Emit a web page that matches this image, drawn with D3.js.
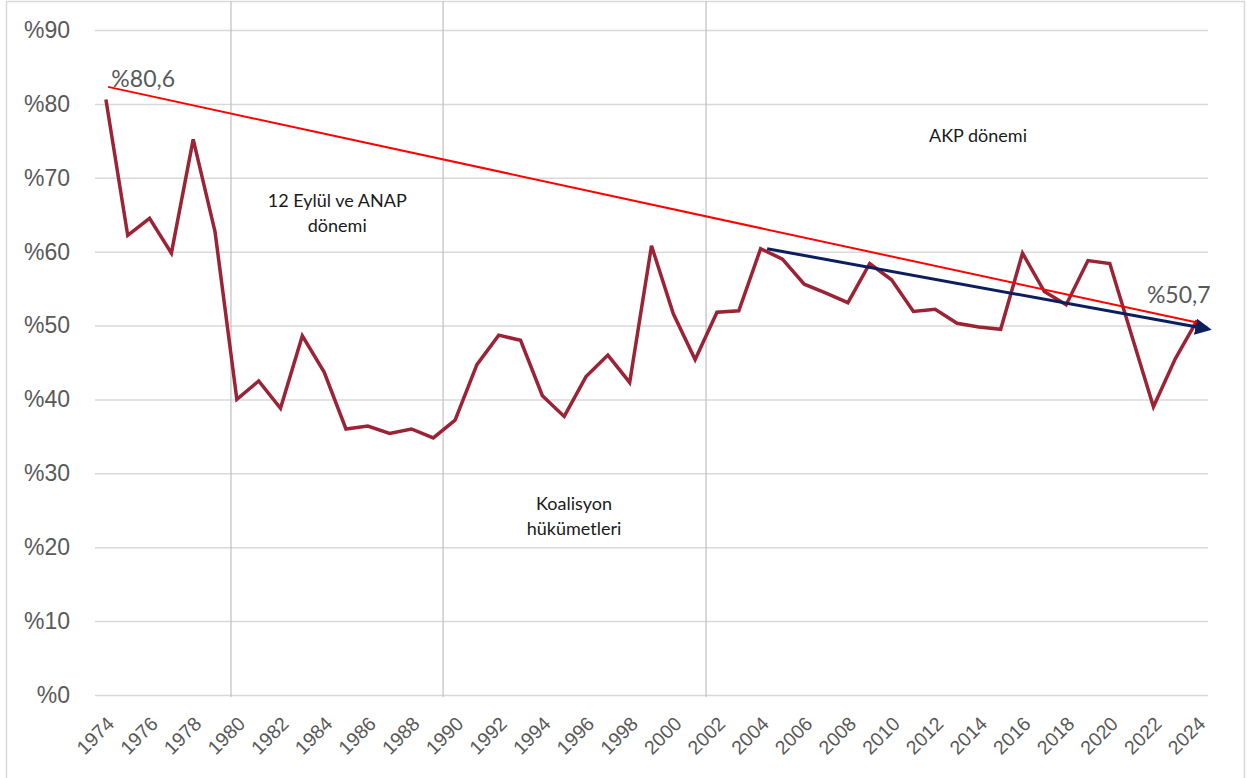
<!DOCTYPE html>
<html>
<head>
<meta charset="utf-8">
<script src="https://cdn.jsdelivr.net/npm/d3@7"></script>
<style>
  body { margin: 0; background: #fff; }
  svg { font-family: Lato, "Open Sans", sans-serif; }
</style>
</head>
<body>
<div id="chart"></div>
<script>
// yearly share (%), 1974-2024
var years = d3.range(1974, 2025);
var values = [80.6, 62.2, 64.5, 59.8, 75.2, 62.7, 40.0, 42.5, 38.8, 48.6,
              43.7, 36.0, 36.4, 35.4, 36.0, 34.8, 37.2, 44.7, 48.7, 48.0,
              40.5, 37.7, 43.1, 46.0, 42.3, 60.8, 51.6, 45.4, 51.8, 52.0,
              60.4, 59.0, 55.6, 54.4, 53.1, 58.4, 56.2, 51.9, 52.2, 50.3,
              49.8, 49.5, 59.8, 54.6, 52.8, 58.8, 58.4, 48.7, 39.0, 45.5, 50.7];
var yTicks = [0, 10, 20, 30, 40, 50, 60, 70, 80, 90];
var xTicks = d3.range(1974, 2025, 2);

// period dividers (in year units) and period labels
var dividers = [1979.73, 1989.45, 2001.5];
var periodLabels = [
  {lines: ["12 Eylül ve ANAP", "dönemi"], year: 1984.6, value: 66.0},
  {lines: ["Koalisyon", "hükümetleri"], year: 1995.45, value: 25.0},
  {lines: ["AKP dönemi"], year: 2013.96, value: 74.9}
];
// trend lines [startYear, startValue, endYear, endValue]
var trendAll = [1974.1, 82.3, 2024.0, 50.4];
var trendAkp = [2004.3, 60.4, 2024.0, 49.8];
var endLabels = [
  {text: "%80,6", year: 1974.25, value: 82.3},
  {text: "%50,7", year: 2021.7, value: 53.0}
];

var width = 1247, height = 778;
var margin = {left: 95, right: 39, top: 30, bottom: 83};

var svg = d3.select("#chart").append("svg")
    .attr("width", width)
    .attr("height", height);

svg.append("rect")
    .attr("x", 6.5).attr("y", 1.5)
    .attr("width", 1238).attr("height", 800)
    .attr("fill", "none")
    .attr("stroke", "#d9d9d9")
    .attr("stroke-width", 1.5);

var x = d3.scaleLinear()
    .domain([1973.5, 2024.5])
    .range([margin.left, width - margin.right]);
var y = d3.scaleLinear()
    .domain([0, 90])
    .range([height - margin.bottom, margin.top]);

// horizontal grid + y labels
var yAxis = d3.axisLeft(y)
    .tickValues(yTicks)
    .tickSize(-(width - margin.left - margin.right))
    .tickFormat(d => "%" + d);
var gy = svg.append("g")
    .attr("transform", "translate(" + margin.left + ",0)")
    .call(yAxis);
gy.select(".domain").remove();
gy.selectAll(".tick line").attr("stroke", "#d9d9d9").attr("stroke-width", 1.5);
gy.selectAll(".tick text")
    .attr("fill", "#595959")
    .attr("font-size", 23)
    .attr("x", -25);

// period divider lines
svg.append("g").selectAll("line")
    .data(dividers)
    .join("line")
    .attr("x1", d => x(d)).attr("x2", d => x(d))
    .attr("y1", 1).attr("y2", y(0) + 2)
    .attr("stroke", "#bfbfbf")
    .attr("stroke-width", 1.2);

// x labels
var xAxis = d3.axisBottom(x)
    .tickValues(xTicks)
    .tickSize(0)
    .tickFormat(d => d);
var gx = svg.append("g")
    .attr("transform", "translate(0," + y(0) + ")")
    .call(xAxis);
gx.select(".domain").remove();
gx.selectAll(".tick text")
    .attr("fill", "#595959")
    .attr("font-size", 19.5)
    .attr("text-anchor", "end")
    .attr("dy", 0)
    .attr("y", 0)
    .attr("transform", "translate(9,30) rotate(-45)");

// period labels
svg.append("g").selectAll("text")
    .data(periodLabels)
    .join("text")
    .attr("x", d => x(d.year))
    .attr("y", d => y(d.value))
    .attr("text-anchor", "middle")
    .attr("font-size", 18)
    .attr("fill", "#1a1a1a")
    .selectAll("tspan")
    .data(d => d.lines.map((l, i) => ({l: l, i: i, x: x(d.year)})))
    .join("tspan")
    .attr("x", d => d.x)
    .attr("dy", d => d.i === 0 ? 0 : 25)
    .text(d => d.l);

// main series
var line = d3.line()
    .x((d, i) => x(years[i]))
    .y(d => y(d));
svg.append("path")
    .datum(values)
    .attr("fill", "none")
    .attr("stroke", "#9b2335")
    .attr("stroke-width", 3.5)
    .attr("stroke-linejoin", "miter")
    .attr("d", line);

// arrow marker
svg.append("defs").append("marker")
    .attr("id", "arrow")
    .attr("viewBox", "0 0 10 10")
    .attr("refX", 1).attr("refY", 5)
    .attr("markerWidth", 5.5).attr("markerHeight", 5.5)
    .attr("markerUnits", "strokeWidth")
    .attr("orient", "auto")
    .append("path")
    .attr("d", "M0,0 L10,5 L0,10 z")
    .attr("fill", "#0c1f5c");

svg.append("line")
    .attr("x1", x(trendAkp[0])).attr("y1", y(trendAkp[1]))
    .attr("x2", x(trendAkp[2])).attr("y2", y(trendAkp[3]))
    .attr("stroke", "#0c1f5c")
    .attr("stroke-width", 3)
    .attr("marker-end", "url(#arrow)");

svg.append("line")
    .attr("x1", x(trendAll[0])).attr("y1", y(trendAll[1]))
    .attr("x2", x(trendAll[2])).attr("y2", y(trendAll[3]))
    .attr("stroke", "#ff0000")
    .attr("stroke-width", 2);

// end value labels
svg.append("g").selectAll("text")
    .data(endLabels)
    .join("text")
    .attr("x", d => x(d.year))
    .attr("y", d => y(d.value))
    .attr("font-size", 23)
    .attr("fill", "#595959")
    .text(d => d.text);
</script>
</body>
</html>
